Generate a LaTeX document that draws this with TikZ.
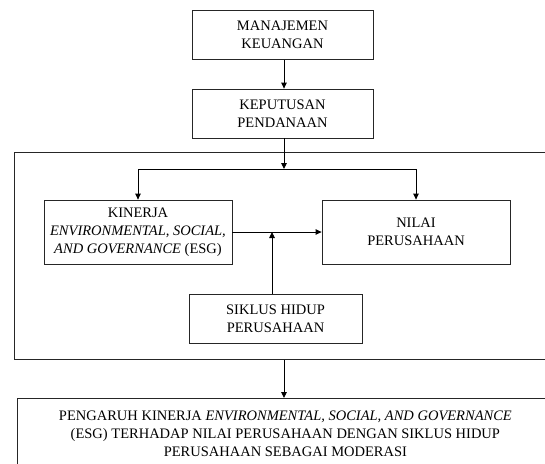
\documentclass[tikz,border=0pt]{standalone}
\usepackage{fontspec}
\setmainfont{Liberation Serif}
\usetikzlibrary{arrows.meta}
\begin{document}
\begin{tikzpicture}[x=1pt,y=1pt,
  box/.style={draw=black!85, line width=0.8pt, align=center, inner sep=0pt,
    font=\fontsize{14.5}{18}\selectfont},
  arr/.style={draw=black, line width=0.9pt, -{Triangle[length=6pt,width=5.5pt]}},
  ln/.style={draw=black, line width=0.9pt}]
\useasboundingbox (0,0) rectangle (545,-463);
\node[box, minimum width=181, minimum height=49] (m) at (282.5,-35) {MANAJEMEN\\KEUANGAN};
\node[box, minimum width=181, minimum height=49] (k) at (282.5,-113.5) {KEPUTUSAN\\PENDANAAN};
\node[box, anchor=north west, minimum width=536, minimum height=207] (frame) at (14,-152) {};
\node[box, minimum width=188, minimum height=64] (esg) at (138,-232) {KINERJA\\\textit{ENVIRONMENTAL, SOCIAL,}\\\textit{AND GOVERNANCE} (ESG)};
\node[box, minimum width=188, minimum height=64] (nilai) at (416,-232) {NILAI\\PERUSAHAAN};
\node[box, minimum width=173, minimum height=49] (siklus) at (275.5,-318.5) {SIKLUS HIDUP\\PERUSAHAAN};
\node[box, anchor=north west, minimum width=536, minimum height=70] (out) at (17,-398) {PENGARUH KINERJA \textit{ENVIRONMENTAL, SOCIAL, AND GOVERNANCE}\\(ESG) TERHADAP NILAI PERUSAHAAN DENGAN SIKLUS HIDUP\\PERUSAHAAN SEBAGAI MODERASI};
\coordinate (j) at (284,-169);
\coordinate (jl) at (esg.north |- j);
\coordinate (jr) at (nilai.north |- j);
\coordinate (mid) at (272,-232);
\draw[arr] (m.south -| 284,0) -- (k.north -| 284,0);
\draw[arr] (k.south -| j) -- (j);
\draw[ln] (jl) -- (jr);
\draw[arr] (jl) -- (esg.north);
\draw[arr] (jr) -- (nilai.north);
\draw[arr] (esg.east) -- (nilai.west);
\draw[arr] (siklus.north -| mid) -- (mid);
\draw[arr] (frame.south -| j) -- (out.north -| j);
\end{tikzpicture}
\end{document}
